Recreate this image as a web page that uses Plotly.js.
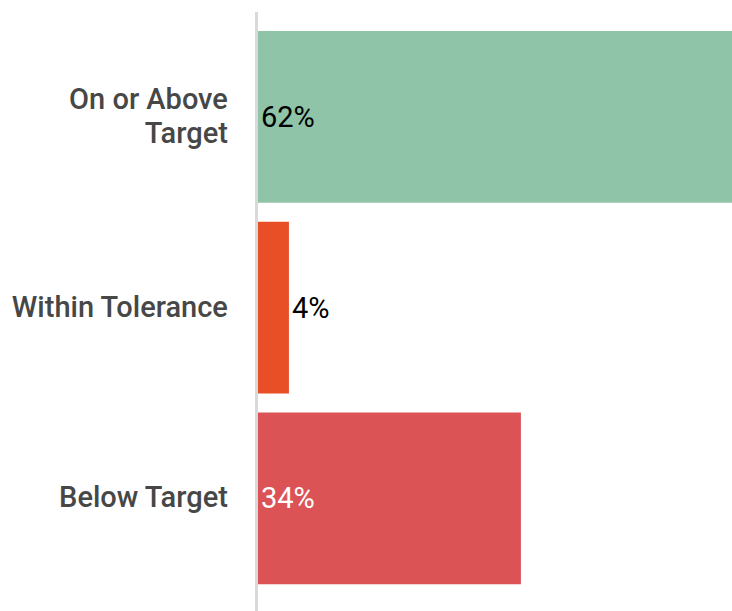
<!DOCTYPE html>
<html><head><meta charset="utf-8">
<script src="https://cdn.plot.ly/plotly-3.0.1.min.js"></script>
<style>html,body{margin:0;padding:0;background:#fff}</style>
</head><body><div id="chart" style="width:732px;height:611px"></div>
<script>
const categories = ["On or Above<br>Target", "Within Tolerance", "Below Target"];
const values = [62, 4, 34];
const labels = ["62%", "4%", "34%"];
const colors = ["#8fc4a8", "#e84f27", "#dc5356"];
const textColors = ["#000000", "#000000", "#ffffff"];

const tickText = categories.map(c => c.split("<br>").map(p => '<span style="font-size:29px">' + p + '</span>').join("<br>"));

Plotly.newPlot("chart", [{
  type: "bar",
  orientation: "h",
  y: categories,
  x: values,
  text: labels,
  textposition: "auto",
  insidetextanchor: "start",
  texttemplate: "%{text}",
  hoverinfo: "none",
  marker: {color: colors},
  width: 0.9,
  textfont: {family: "Roboto", size: 29, weight: 400, color: textColors},
  insidetextfont: {family: "Roboto", size: 29, weight: 400, color: textColors},
  outsidetextfont: {family: "Roboto", size: 29, weight: 400, color: "#000000"},
  cliponaxis: true
}], {
  width: 732, height: 611,
  margin: {l: 258, r: 0, t: 12, b: 0, pad: 0},
  paper_bgcolor: "#ffffff", plot_bgcolor: "#ffffff",
  showlegend: false,
  xaxis: {range: [0, 61.3], visible: false, fixedrange: true},
  yaxis: {
    type: "category",
    range: [2.59, -0.55],
    tickmode: "array",
    tickvals: categories,
    ticktext: tickText,
    showline: true, linecolor: "#d9d9d9", linewidth: 3,
    showgrid: false, zeroline: false, ticks: "",
    ticklabelstandoff: 22,
    tickfont: {family: "Roboto", size: 25.7, weight: 500, color: "#474747"}
  },
  font: {family: "Roboto"}
}, {staticPlot: true, displayModeBar: false});
</script></body></html>
